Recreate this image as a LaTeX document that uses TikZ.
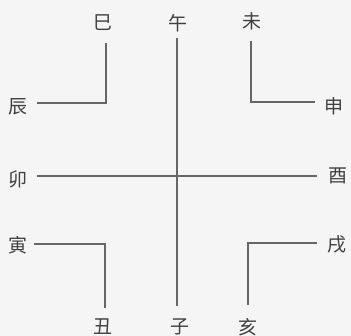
\documentclass[tikz,border=0pt]{standalone}
\usepackage{fontspec}
\newfontfamily\cjk{Noto Sans CJK SC}
\begin{document}
\begin{tikzpicture}[x=1pt,y=-1pt,
  lbl/.style={font=\cjk\fontsize{19}{19}\selectfont, text=black!75, inner sep=0pt},
  ln/.style={draw=black!60, line width=1.4pt}]
\fill[black!4] (0,0) rectangle (351,336);
\useasboundingbox (0,0) rectangle (351,336);
% labels
\node[lbl] (si) at (103,23) {巳};
\node[lbl] (wu) at (178,23) {午};
\node[lbl] (wei) at (252,21) {未};
\node[lbl] (chen) at (18,107) {辰};
\node[lbl] (shen) at (334,106) {申};
\node[lbl] (mao) at (18,179) {卯};
\node[lbl] (you) at (338,176) {酉};
\node[lbl] (yin) at (18,245) {寅};
\node[lbl] (xu) at (337,244) {戌};
\node[lbl] (chou) at (103,327) {丑};
\node[lbl] (zi) at (180,327) {子};
\node[lbl] (hai) at (248,327) {亥};
% anchor points
\coordinate (tlS) at (37,103);
\coordinate (tlC) at (106,103);
\coordinate (tlE) at (106,43);
\coordinate (trS) at (251,41);
\coordinate (trC) at (251,102);
\coordinate (trE) at (315,102);
\coordinate (blS) at (34,244);
\coordinate (blC) at (105,244);
\coordinate (blE) at (105,308);
\coordinate (brS) at (317,243);
\coordinate (brC) at (248,243);
\coordinate (brE) at (248,305);
\coordinate (vT) at (177,38);
\coordinate (vB) at (177,306);
\coordinate (hL) at (37,176);
\coordinate (hR) at (317,176);
% lines
\draw[ln] (tlS) -- (tlC) -- (tlE);
\draw[ln] (trS) -- (trC) -- (trE);
\draw[ln] (blS) -- (blC) -- (blE);
\draw[ln] (brS) -- (brC) -- (brE);
\draw[ln] (vT) -- (vB);
\draw[ln] (hL) -- (hR);
\end{tikzpicture}
\end{document}
